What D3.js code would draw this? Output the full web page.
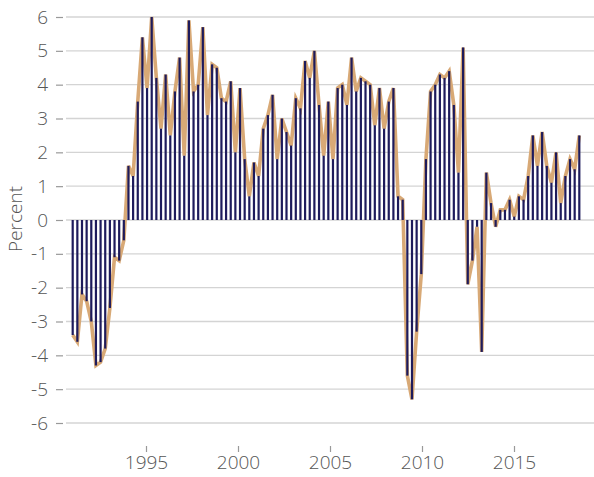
<!DOCTYPE html>
<html>
<head>
<meta charset="utf-8">
<script src="https://cdn.jsdelivr.net/npm/d3@7"></script>
<style>
  body { margin: 0; background: #fff; }
  svg text { font-family: "Open Sans", sans-serif; font-weight: 300; }
</style>
</head>
<body>
<div id="chart"></div>
<script>
// quarterly series, first value is 1991 Q1
const startYear = 1991;
const values = [
  -3.4, -3.6, -2.2, -2.4, -3.0, -4.3, -4.2, -3.8, -2.6, -1.1,
  -1.2, -0.6, 1.6, 1.3, 3.5, 5.4, 3.9, 6.0, 4.2, 2.7,
  4.3, 2.5, 3.8, 4.8, 1.9, 5.9, 3.8, 4.0, 5.7, 3.1,
  4.6, 4.5, 3.6, 3.5, 4.1, 2.0, 3.9, 1.8, 0.7, 1.7,
  1.3, 2.7, 3.1, 3.7, 1.8, 3.0, 2.6, 2.2, 3.6, 3.3,
  4.7, 4.2, 5.0, 3.4, 1.9, 3.5, 1.8, 3.9, 4.0, 3.4,
  4.8, 3.8, 4.2, 4.1, 4.0, 2.8, 3.9, 2.7, 3.5, 3.9,
  0.7, 0.6, -4.6, -5.3, -3.3, -1.6, 1.8, 3.8, 4.0, 4.3,
  4.2, 4.4, 3.4, 1.4, 5.1, -1.9, -1.2, -0.2, -3.9, 1.4,
  0.5, -0.2, 0.3, 0.3, 0.6, 0.1, 0.7, 0.6, 1.3, 2.5,
  1.6, 2.6, 1.6, 1.1, 2.0, 0.5, 1.3, 1.8, 1.5, 2.5
];
const yTicks = [-6, -5, -4, -3, -2, -1, 0, 1, 2, 3, 4, 5, 6];
const xTicks = [1995, 2000, 2005, 2010, 2015];
const yLabel = "Percent";

const data = values.map((v, i) => ({ t: startYear + i / 4, v: v }));

const W = 594, H = 477;
const svg = d3.select("#chart").append("svg")
  .attr("width", W)
  .attr("height", H);

// bar positions
const x = d3.scaleLinear()
  .domain([1990.64, 2019.04])
  .range([66, 594]);

// year axis (its own spacing, slightly tighter than the bars)
const xYear = d3.scaleLinear()
  .domain([1995, 2015])
  .range([146, 514]);

const y = d3.scaleLinear()
  .domain([-6, 6])
  .range([423, 17]);

const fmt = d => String(d);

// grid lines
svg.append("g")
  .selectAll("line")
  .data(yTicks)
  .join("line")
  .attr("x1", 66)
  .attr("x2", W)
  .attr("y1", d => y(d))
  .attr("y2", d => y(d))
  .attr("stroke", "#d4d4d4")
  .attr("stroke-width", 1.4);

// y axis
const yAxis = svg.append("g")
  .attr("transform", "translate(63,0)")
  .call(d3.axisLeft(y).tickValues(yTicks).tickSize(7).tickPadding(8).tickFormat(fmt));
yAxis.select(".domain").remove();
yAxis.selectAll(".tick line").attr("stroke", "#999").attr("stroke-width", 1.2);
yAxis.selectAll(".tick text")
  .attr("fill", "#555")
  .style("font-size", "19px");

// x axis
const xAxis = svg.append("g")
  .attr("transform", "translate(0,446)")
  .call(d3.axisBottom(xYear).tickValues(xTicks).tickSize(6).tickPadding(4).tickFormat(fmt));
xAxis.select(".domain").remove();
xAxis.selectAll(".tick line").attr("stroke", "#999").attr("stroke-width", 1.2);
xAxis.selectAll(".tick text")
  .attr("fill", "#555")
  .style("font-size", "19px");

// axis title
svg.append("text")
  .attr("transform", "translate(22,219) rotate(-90)")
  .attr("text-anchor", "middle")
  .attr("fill", "#555")
  .style("font-size", "19px")
  .text(yLabel);

// line
const line = d3.line()
  .x(d => x(d.t))
  .y(d => y(d.v));

svg.append("path")
  .datum(data)
  .attr("d", line)
  .attr("fill", "none")
  .attr("stroke", "#d8a976")
  .attr("stroke-width", 3.6)
  .attr("stroke-linejoin", "miter");

// bars
const bw = 2.2;
svg.append("g")
  .selectAll("rect")
  .data(data)
  .join("rect")
  .attr("x", d => x(d.t) - bw / 2)
  .attr("width", bw)
  .attr("y", d => y(Math.max(0, d.v)))
  .attr("height", d => Math.abs(y(d.v) - y(0)))
  .attr("fill", "#1e1b5c");
</script>
</body>
</html>
